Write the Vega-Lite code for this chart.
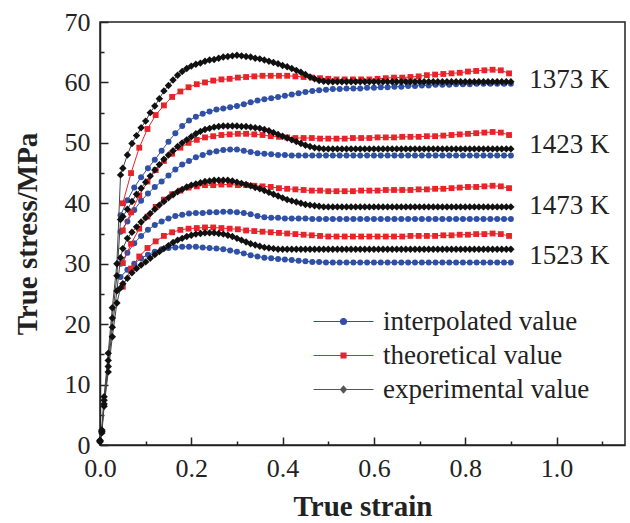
{
  "$schema": "https://vega.github.io/schema/vega-lite/v6.json",
  "width": 525,
  "height": 423,
  "autosize": "none",
  "padding": {"left": 100, "top": 22, "right": 5, "bottom": 78},
  "background": "white",
  "config": {
    "view": {"stroke": "#222", "strokeWidth": 1.5},
    "font": "Liberation Serif",
    "axis": {
      "grid": false,
      "domainColor": "#222",
      "domainWidth": 1.5,
      "tickColor": "#222",
      "tickWidth": 1.5,
      "labelFont": "Liberation Serif",
      "labelFontSize": 26,
      "labelColor": "#222",
      "labelFlush": false,
      "labelOverlap": false,
      "titleFont": "Liberation Serif",
      "titleFontSize": 29,
      "titleFontWeight": "bold",
      "titleColor": "#222"
    }
  },
  "datasets": {
    "exp": [
      {"x":0,"a":0.8,"b":0.7,"c":0.6,"d":0.5},
      {"x":0.004,"a":2.5,"b":2.3,"c":2.2,"d":2.0},
      {"x":0.009,"a":8.0,"b":7.4,"c":6.8,"d":6.4},
      {"x":0.018,"a":15.2,"b":14.0,"c":13.0,"d":12.1},
      {"x":0.027,"a":22.7,"b":21.0,"c":19.5,"d":17.9},
      {"x":0.037,"a":30.0,"b":28.0,"c":25.5,"d":23.5},
      {"x":0.045,"a":44.7,"b":37.3,"c":31.0,"d":26.0},
      {"x":0.05,"a":45.8,"b":37.8,"c":32.5,"d":26.7},
      {"x":0.06,"a":48.0,"b":39.0,"c":34.2,"d":27.6},
      {"x":0.07,"a":49.9,"b":40.3,"c":35.2,"d":28.5},
      {"x":0.08,"a":51.2,"b":41.5,"c":36.1,"d":29.2},
      {"x":0.09,"a":52.5,"b":42.5,"c":36.9,"d":29.8},
      {"x":0.10,"a":53.6,"b":43.5,"c":37.6,"d":30.3},
      {"x":0.11,"a":55.0,"b":44.5,"c":38.3,"d":30.9},
      {"x":0.12,"a":56.1,"b":45.5,"c":39.0,"d":31.5},
      {"x":0.13,"a":57.3,"b":46.4,"c":39.7,"d":32.0},
      {"x":0.14,"a":58.6,"b":47.3,"c":40.3,"d":32.5},
      {"x":0.15,"a":59.5,"b":48.0,"c":40.9,"d":33.0},
      {"x":0.16,"a":60.4,"b":48.7,"c":41.4,"d":33.5},
      {"x":0.17,"a":61.2,"b":49.4,"c":41.9,"d":33.9},
      {"x":0.18,"a":61.8,"b":50.0,"c":42.3,"d":34.2},
      {"x":0.19,"a":62.3,"b":50.5,"c":42.7,"d":34.5},
      {"x":0.20,"a":62.7,"b":51.0,"c":43.0,"d":34.7},
      {"x":0.21,"a":63.0,"b":51.5,"c":43.2,"d":34.9},
      {"x":0.22,"a":63.2,"b":51.9,"c":43.4,"d":35.0},
      {"x":0.23,"a":63.5,"b":52.2,"c":43.6,"d":35.1},
      {"x":0.24,"a":63.7,"b":52.4,"c":43.7,"d":35.1},
      {"x":0.25,"a":63.8,"b":52.6,"c":43.8,"d":35.1},
      {"x":0.26,"a":64.0,"b":52.7,"c":43.8,"d":35.0},
      {"x":0.27,"a":64.2,"b":52.8,"c":43.8,"d":34.9},
      {"x":0.28,"a":64.3,"b":52.8,"c":43.8,"d":34.7},
      {"x":0.29,"a":64.4,"b":52.8,"c":43.7,"d":34.5},
      {"x":0.30,"a":64.5,"b":52.8,"c":43.5,"d":34.2},
      {"x":0.31,"a":64.4,"b":52.7,"c":43.3,"d":33.9},
      {"x":0.32,"a":64.3,"b":52.7,"c":43.1,"d":33.6},
      {"x":0.33,"a":64.2,"b":52.6,"c":42.9,"d":33.3},
      {"x":0.34,"a":64.0,"b":52.5,"c":42.6,"d":33.1},
      {"x":0.35,"a":63.9,"b":52.4,"c":42.4,"d":32.9},
      {"x":0.36,"a":63.7,"b":52.2,"c":42.1,"d":32.7},
      {"x":0.37,"a":63.5,"b":52.0,"c":41.8,"d":32.6},
      {"x":0.38,"a":63.3,"b":51.7,"c":41.5,"d":32.5},
      {"x":0.39,"a":63.1,"b":51.4,"c":41.2,"d":32.4},
      {"x":0.40,"a":62.8,"b":51.1,"c":40.9,"d":32.4},
      {"x":0.41,"a":62.6,"b":50.8,"c":40.6,"d":32.4},
      {"x":0.42,"a":62.3,"b":50.5,"c":40.4,"d":32.4},
      {"x":0.43,"a":62.0,"b":50.2,"c":40.2,"d":32.4},
      {"x":0.44,"a":61.7,"b":49.9,"c":40.0,"d":32.4},
      {"x":0.45,"a":61.3,"b":49.6,"c":39.8,"d":32.4},
      {"x":0.46,"a":60.9,"b":49.4,"c":39.7,"d":32.4},
      {"x":0.47,"a":60.6,"b":49.2,"c":39.6,"d":32.4},
      {"x":0.48,"a":60.3,"b":49.1,"c":39.5,"d":32.4},
      {"x":0.49,"a":60.2,"b":49.0,"c":39.4,"d":32.4},
      {"x":0.50,"a":60.1,"b":49.0,"c":39.4,"d":32.4},
      {"x":0.51,"a":60.1,"b":49.0,"c":39.4,"d":32.4},
      {"x":0.52,"a":60.1,"b":49.0,"c":39.4,"d":32.4},
      {"x":0.53,"a":60.1,"b":49.0,"c":39.4,"d":32.4},
      {"x":0.54,"a":60.1,"b":49.0,"c":39.4,"d":32.4},
      {"x":0.55,"a":60.1,"b":49.0,"c":39.4,"d":32.4},
      {"x":0.56,"a":60.1,"b":49.0,"c":39.4,"d":32.4},
      {"x":0.57,"a":60.1,"b":49.0,"c":39.4,"d":32.4},
      {"x":0.58,"a":60.1,"b":49.0,"c":39.4,"d":32.4},
      {"x":0.59,"a":60.1,"b":49.0,"c":39.4,"d":32.4},
      {"x":0.60,"a":60.1,"b":49.0,"c":39.4,"d":32.4},
      {"x":0.61,"a":60.1,"b":49.0,"c":39.4,"d":32.4},
      {"x":0.62,"a":60.1,"b":49.0,"c":39.4,"d":32.4},
      {"x":0.63,"a":60.1,"b":49.0,"c":39.4,"d":32.4},
      {"x":0.64,"a":60.1,"b":49.0,"c":39.4,"d":32.4},
      {"x":0.65,"a":60.1,"b":49.0,"c":39.4,"d":32.4},
      {"x":0.66,"a":60.1,"b":49.0,"c":39.4,"d":32.4},
      {"x":0.67,"a":60.1,"b":49.0,"c":39.4,"d":32.4},
      {"x":0.68,"a":60.1,"b":49.0,"c":39.4,"d":32.4},
      {"x":0.69,"a":60.1,"b":49.0,"c":39.4,"d":32.4},
      {"x":0.70,"a":60.1,"b":49.0,"c":39.4,"d":32.4},
      {"x":0.71,"a":60.1,"b":49.0,"c":39.4,"d":32.4},
      {"x":0.72,"a":60.1,"b":49.0,"c":39.4,"d":32.4},
      {"x":0.73,"a":60.1,"b":49.0,"c":39.4,"d":32.4},
      {"x":0.74,"a":60.1,"b":49.0,"c":39.4,"d":32.4},
      {"x":0.75,"a":60.1,"b":49.0,"c":39.4,"d":32.4},
      {"x":0.76,"a":60.1,"b":49.0,"c":39.4,"d":32.4},
      {"x":0.77,"a":60.1,"b":49.0,"c":39.4,"d":32.4},
      {"x":0.78,"a":60.1,"b":49.0,"c":39.4,"d":32.4},
      {"x":0.79,"a":60.1,"b":49.0,"c":39.4,"d":32.4},
      {"x":0.80,"a":60.1,"b":49.0,"c":39.4,"d":32.4},
      {"x":0.81,"a":60.1,"b":49.0,"c":39.4,"d":32.4},
      {"x":0.82,"a":60.1,"b":49.0,"c":39.4,"d":32.4},
      {"x":0.83,"a":60.1,"b":49.0,"c":39.4,"d":32.4},
      {"x":0.84,"a":60.1,"b":49.0,"c":39.4,"d":32.4},
      {"x":0.85,"a":60.1,"b":49.0,"c":39.4,"d":32.4},
      {"x":0.86,"a":60.1,"b":49.0,"c":39.4,"d":32.4},
      {"x":0.87,"a":60.1,"b":49.0,"c":39.4,"d":32.4},
      {"x":0.88,"a":60.1,"b":49.0,"c":39.4,"d":32.4},
      {"x":0.89,"a":60.1,"b":49.0,"c":39.4,"d":32.4},
      {"x":0.90,"a":60.1,"b":49.0,"c":39.4,"d":32.4}
    ],
    "theo": [
      {"x":0.05,"a":40.0,"b":35.5,"c":30.1,"d":26.2},
      {"x":0.068,"a":45.0,"b":38.5,"c":33.3,"d":29.2},
      {"x":0.086,"a":49.2,"b":41.3,"c":35.8,"d":31.2},
      {"x":0.104,"a":52.3,"b":43.6,"c":37.8,"d":32.6},
      {"x":0.122,"a":54.6,"b":45.5,"c":39.4,"d":33.7},
      {"x":0.14,"a":56.2,"b":47.0,"c":40.6,"d":34.6},
      {"x":0.158,"a":57.6,"b":48.2,"c":41.5,"d":35.2},
      {"x":0.176,"a":58.5,"b":49.2,"c":42.1,"d":35.6},
      {"x":0.194,"a":59.2,"b":50.0,"c":42.6,"d":35.8},
      {"x":0.212,"a":59.7,"b":50.5,"c":42.8,"d":35.9},
      {"x":0.23,"a":60.0,"b":50.9,"c":43.0,"d":36.0},
      {"x":0.248,"a":60.3,"b":51.1,"c":43.0,"d":36.0},
      {"x":0.266,"a":60.5,"b":51.3,"c":43.1,"d":35.9},
      {"x":0.284,"a":60.6,"b":51.4,"c":43.1,"d":35.8},
      {"x":0.302,"a":60.8,"b":51.5,"c":43.0,"d":35.7},
      {"x":0.32,"a":60.9,"b":51.5,"c":43.0,"d":35.5},
      {"x":0.338,"a":61.0,"b":51.4,"c":42.9,"d":35.4},
      {"x":0.356,"a":61.1,"b":51.3,"c":42.8,"d":35.3},
      {"x":0.374,"a":61.1,"b":51.1,"c":42.7,"d":35.2},
      {"x":0.392,"a":61.1,"b":51.0,"c":42.5,"d":35.1},
      {"x":0.41,"a":61.1,"b":50.9,"c":42.4,"d":35.0},
      {"x":0.428,"a":61.0,"b":50.8,"c":42.3,"d":34.9},
      {"x":0.446,"a":60.9,"b":50.8,"c":42.2,"d":34.8},
      {"x":0.464,"a":60.8,"b":50.8,"c":42.1,"d":34.7},
      {"x":0.482,"a":60.7,"b":50.7,"c":42.1,"d":34.6},
      {"x":0.5,"a":60.6,"b":50.7,"c":42.0,"d":34.5},
      {"x":0.518,"a":60.5,"b":50.7,"c":42.0,"d":34.5},
      {"x":0.536,"a":60.5,"b":50.7,"c":42.0,"d":34.5},
      {"x":0.554,"a":60.5,"b":50.8,"c":42.0,"d":34.5},
      {"x":0.572,"a":60.5,"b":50.8,"c":42.1,"d":34.5},
      {"x":0.59,"a":60.5,"b":50.8,"c":42.1,"d":34.5},
      {"x":0.608,"a":60.6,"b":50.9,"c":42.1,"d":34.5},
      {"x":0.626,"a":60.7,"b":50.9,"c":42.2,"d":34.5},
      {"x":0.644,"a":60.8,"b":50.9,"c":42.2,"d":34.5},
      {"x":0.662,"a":60.8,"b":51.0,"c":42.2,"d":34.5},
      {"x":0.68,"a":60.9,"b":51.0,"c":42.2,"d":34.6},
      {"x":0.698,"a":61.0,"b":51.0,"c":42.3,"d":34.6},
      {"x":0.716,"a":61.2,"b":51.1,"c":42.3,"d":34.6},
      {"x":0.734,"a":61.3,"b":51.1,"c":42.4,"d":34.6},
      {"x":0.752,"a":61.4,"b":51.2,"c":42.4,"d":34.7},
      {"x":0.77,"a":61.5,"b":51.3,"c":42.5,"d":34.7},
      {"x":0.788,"a":61.6,"b":51.4,"c":42.6,"d":34.8},
      {"x":0.806,"a":61.8,"b":51.5,"c":42.7,"d":34.8},
      {"x":0.824,"a":61.9,"b":51.6,"c":42.7,"d":34.9},
      {"x":0.842,"a":62.0,"b":51.7,"c":42.8,"d":34.9},
      {"x":0.86,"a":62.1,"b":51.8,"c":42.9,"d":35.0},
      {"x":0.878,"a":62.0,"b":51.7,"c":42.8,"d":34.9},
      {"x":0.896,"a":61.5,"b":51.3,"c":42.5,"d":34.6}
    ],
    "interp": [
      {"x":0.045,"a":38.0,"b":35.3,"c":30.0,"d":27.8},
      {"x":0.06,"a":40.5,"b":37.0,"c":31.8,"d":29.0},
      {"x":0.075,"a":42.6,"b":38.9,"c":33.4,"d":30.0},
      {"x":0.09,"a":44.3,"b":40.4,"c":34.6,"d":30.9},
      {"x":0.105,"a":45.8,"b":41.6,"c":35.6,"d":31.5},
      {"x":0.12,"a":47.2,"b":42.7,"c":36.4,"d":32.0},
      {"x":0.135,"a":48.7,"b":43.6,"c":37.0,"d":32.4},
      {"x":0.15,"a":50.2,"b":44.6,"c":37.5,"d":32.6},
      {"x":0.165,"a":51.6,"b":45.6,"c":37.9,"d":32.7},
      {"x":0.18,"a":52.8,"b":46.4,"c":38.1,"d":32.8},
      {"x":0.195,"a":53.7,"b":47.0,"c":38.3,"d":32.8},
      {"x":0.21,"a":54.3,"b":47.6,"c":38.4,"d":32.8},
      {"x":0.225,"a":54.8,"b":48.0,"c":38.4,"d":32.7},
      {"x":0.24,"a":55.2,"b":48.4,"c":38.5,"d":32.6},
      {"x":0.255,"a":55.5,"b":48.6,"c":38.5,"d":32.5},
      {"x":0.27,"a":55.7,"b":48.8,"c":38.6,"d":32.4},
      {"x":0.285,"a":55.9,"b":48.9,"c":38.6,"d":32.2},
      {"x":0.3,"a":56.1,"b":48.9,"c":38.5,"d":32.0},
      {"x":0.315,"a":56.4,"b":48.7,"c":38.4,"d":31.7},
      {"x":0.33,"a":56.7,"b":48.5,"c":38.2,"d":31.4},
      {"x":0.345,"a":57.0,"b":48.3,"c":37.9,"d":31.2},
      {"x":0.36,"a":57.2,"b":48.2,"c":37.7,"d":31.0},
      {"x":0.375,"a":57.4,"b":48.1,"c":37.6,"d":30.9},
      {"x":0.39,"a":57.6,"b":48.0,"c":37.6,"d":30.8},
      {"x":0.405,"a":57.8,"b":48.0,"c":37.5,"d":30.7},
      {"x":0.42,"a":58.0,"b":47.9,"c":37.5,"d":30.6},
      {"x":0.435,"a":58.2,"b":47.9,"c":37.5,"d":30.5},
      {"x":0.45,"a":58.4,"b":47.9,"c":37.5,"d":30.4},
      {"x":0.465,"a":58.6,"b":47.9,"c":37.4,"d":30.3},
      {"x":0.48,"a":58.7,"b":47.9,"c":37.4,"d":30.3},
      {"x":0.495,"a":58.8,"b":47.9,"c":37.4,"d":30.2},
      {"x":0.51,"a":58.9,"b":47.9,"c":37.4,"d":30.2},
      {"x":0.525,"a":58.9,"b":47.9,"c":37.4,"d":30.2},
      {"x":0.54,"a":59.0,"b":47.9,"c":37.4,"d":30.2},
      {"x":0.555,"a":59.0,"b":47.9,"c":37.4,"d":30.2},
      {"x":0.57,"a":59.0,"b":47.9,"c":37.4,"d":30.2},
      {"x":0.585,"a":59.1,"b":47.9,"c":37.4,"d":30.2},
      {"x":0.6,"a":59.1,"b":47.9,"c":37.4,"d":30.2},
      {"x":0.615,"a":59.2,"b":47.9,"c":37.4,"d":30.2},
      {"x":0.63,"a":59.2,"b":47.9,"c":37.4,"d":30.2},
      {"x":0.645,"a":59.3,"b":47.9,"c":37.4,"d":30.2},
      {"x":0.66,"a":59.3,"b":47.9,"c":37.4,"d":30.2},
      {"x":0.675,"a":59.4,"b":47.9,"c":37.4,"d":30.2},
      {"x":0.69,"a":59.4,"b":47.9,"c":37.4,"d":30.2},
      {"x":0.705,"a":59.5,"b":47.9,"c":37.4,"d":30.2},
      {"x":0.72,"a":59.5,"b":47.9,"c":37.4,"d":30.2},
      {"x":0.735,"a":59.6,"b":47.9,"c":37.4,"d":30.2},
      {"x":0.75,"a":59.6,"b":47.9,"c":37.4,"d":30.2},
      {"x":0.765,"a":59.6,"b":47.9,"c":37.4,"d":30.2},
      {"x":0.78,"a":59.7,"b":47.9,"c":37.4,"d":30.2},
      {"x":0.795,"a":59.7,"b":47.9,"c":37.4,"d":30.2},
      {"x":0.81,"a":59.7,"b":47.9,"c":37.4,"d":30.2},
      {"x":0.825,"a":59.8,"b":47.9,"c":37.4,"d":30.2},
      {"x":0.84,"a":59.8,"b":47.9,"c":37.4,"d":30.2},
      {"x":0.855,"a":59.8,"b":47.9,"c":37.4,"d":30.2},
      {"x":0.87,"a":59.8,"b":47.9,"c":37.4,"d":30.2},
      {"x":0.885,"a":59.8,"b":47.9,"c":37.4,"d":30.2},
      {"x":0.9,"a":59.8,"b":47.9,"c":37.4,"d":30.2}
    ],
    "labels": [
      {"x":0.94,"y":60.4,"t":"1373 K"},
      {"x":0.94,"y":49.7,"t":"1423 K"},
      {"x":0.94,"y":39.5,"t":"1473 K"},
      {"x":0.94,"y":31.2,"t":"1523 K"}
    ],
    "legend": [
      {"series":"interpolated value","x":0.5,"y":10},
      {"series":"theoretical value","x":0.5,"y":10},
      {"series":"experimental value","x":0.5,"y":10}
    ]
  },
  "encoding": {
    "x": {
      "field": "x",
      "type": "quantitative",
      "scale": {"domain": [0, 1.15], "nice": false, "zero": false},
      "axis": {
        "title": "True strain",
        "values": [0,0.1,0.2,0.3,0.4,0.5,0.6,0.7,0.8,0.9,1.0,1.1],
        "labelExpr": "round(datum.value*10)%2==0 ? format(datum.value,'.1f') : ''",
        "tickSize": {"condition": {"test": "round(datum.value*10)%2==0", "value": -8}, "value": -4},
        "labelPadding": 18,
        "titlePadding": 7
      }
    },
    "y": {
      "field": "y",
      "type": "quantitative",
      "scale": {"domain": [0, 70], "nice": false},
      "axis": {
        "title": "True stress/MPa",
        "values": [0,5,10,15,20,25,30,35,40,45,50,55,60,65,70],
        "labelExpr": "datum.value%10==0 ? datum.label : ''",
        "tickSize": {"condition": {"test": "datum.value%10==0", "value": -8}, "value": -4},
        "labelPadding": 18,
        "titlePadding": 22
      }
    }
  },
  "layer": [
    {
      "data": {"name": "interp"},
      "transform": [{"fold": ["a","b","c","d"], "as": ["T","y"]}],
      "mark": {"type": "line", "color": "#3050a6", "strokeWidth": 1},
      "encoding": {"detail": {"field": "T"}}
    },
    {
      "data": {"name": "interp"},
      "transform": [{"fold": ["a","b","c","d"], "as": ["T","y"]}],
      "mark": {"type": "point", "filled": true, "shape": "circle", "size": 36, "color": "#3050a6", "opacity": 1},
      "encoding": {"detail": {"field": "T"}}
    },
    {
      "data": {"name": "theo"},
      "transform": [{"fold": ["a","b","c","d"], "as": ["T","y"]}],
      "mark": {"type": "line", "color": "#e8232a", "strokeWidth": 1},
      "encoding": {"detail": {"field": "T"}}
    },
    {
      "data": {"name": "theo"},
      "transform": [{"fold": ["a","b","c","d"], "as": ["T","y"]}],
      "mark": {"type": "point", "filled": true, "shape": "square", "size": 34, "color": "#e8232a", "opacity": 1},
      "encoding": {"detail": {"field": "T"}}
    },
    {
      "data": {"name": "exp"},
      "transform": [{"fold": ["a","b","c","d"], "as": ["T","y"]}],
      "mark": {"type": "line", "color": "#444", "strokeWidth": 1},
      "encoding": {"detail": {"field": "T"}}
    },
    {
      "data": {"name": "exp"},
      "transform": [{"fold": ["a","b","c","d"], "as": ["T","y"]}],
      "mark": {"type": "point", "filled": true, "shape": "diamond", "size": 55, "color": "#111", "opacity": 1},
      "encoding": {"detail": {"field": "T"}}
    },
    {
      "data": {"name": "labels"},
      "mark": {"type": "text", "align": "left", "baseline": "middle", "font": "Liberation Serif", "fontSize": 27, "color": "#222"},
      "encoding": {"text": {"field": "t"}}
    },
    {
      "data": {"name": "legend"},
      "mark": {"type": "point", "filled": true, "size": 100, "opacity": 0},
      "encoding": {
        "color": {
          "field": "series",
          "type": "nominal",
          "scale": {"domain": ["interpolated value","theoretical value","experimental value"], "range": ["#3050a6","#e8232a","#555"]},
          "legend": {
            "title": null,
            "orient": "none",
            "legendX": 230,
            "legendY": 286,
            "padding": 0,
            "labelFont": "Liberation Serif",
            "labelFontSize": 27,
            "labelColor": "#222",
            "labelOffset": 26,
            "labelLimit": 400,
            "rowPadding": 6,
            "encode": {"symbols": {"update": {"stroke": {"scale": "color", "field": "value"}, "strokeWidth": {"value": 1.1}, "opacity": {"value": 1}}}}
          }
        },
        "shape": {
          "field": "series",
          "type": "nominal",
          "scale": {
            "domain": ["interpolated value","theoretical value","experimental value"],
            "range": [
              "M-6,0H6M-0.6,0A0.6,0.6,0,1,0,0.6,0A0.6,0.6,0,1,0,-0.6,0Z",
              "M-6,0H6M-0.5,-0.5H0.5V0.5H-0.5Z",
              "M-6,0H6M0,-0.7L0.6,0L0,0.7L-0.6,0Z"
            ]
          },
          "legend": {
            "title": null,
            "orient": "none",
            "legendX": 230,
            "legendY": 286,
            "padding": 0,
            "labelFont": "Liberation Serif",
            "labelFontSize": 27,
            "labelColor": "#222",
            "labelOffset": 26,
            "labelLimit": 400,
            "rowPadding": 6,
            "encode": {"symbols": {"update": {"stroke": {"scale": "color", "field": "value"}, "strokeWidth": {"value": 1.1}, "opacity": {"value": 1}}}}
          }
        }
      }
    }
  ]
}
